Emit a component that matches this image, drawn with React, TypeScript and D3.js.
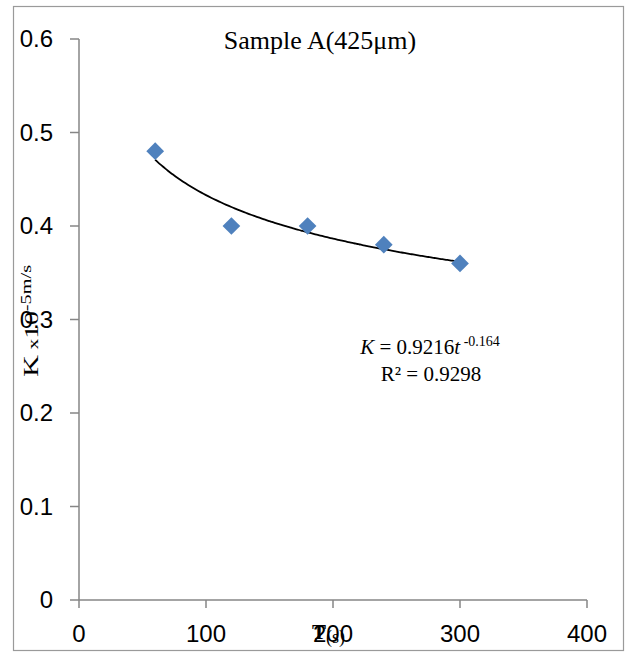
import React from "react";
import * as d3 from "d3";

const times = [60, 120, 180, 240, 300];
const kValues = [0.48, 0.40, 0.40, 0.38, 0.36];
const xTicks = [0, 100, 200, 300, 400];
const yTicks = [0, 0.1, 0.2, 0.3, 0.4, 0.5, 0.6];
const fitCoef = 0.9216;
const fitExp = -0.164;
const fitR2 = 0.9298;
const title = "Sample A(425μm)";

const W = 626;
const H = 654;

export default function App() {
  const x = d3.scaleLinear().domain([0, 400]).range([79, 587]);
  const y = d3.scaleLinear().domain([0, 0.6]).range([600, 39]);
  const axisColor = "#868686";
  const sans = "'Liberation Sans', Arial, sans-serif";
  const serif = "'Liberation Serif', 'Times New Roman', serif";

  const tMin = d3.min(times) as number;
  const tMax = d3.max(times) as number;
  const curveT = d3.range(tMin, tMax + 0.001, 2);
  const line = d3
    .line<number>()
    .x((t) => x(t))
    .y((t) => y(fitCoef * Math.pow(t, fitExp)))
    .curve(d3.curveMonotoneX);

  const diamond = d3.symbol().type(d3.symbolDiamond2).size(200);

  return (
    <svg
      width={W}
      height={H}
      style={{ position: "absolute", left: 0, top: 0, background: "#fff" }}
    >
      <rect x={13.5} y={6.5} width={610} height={644} fill="#fff" stroke="#9a9a9a" strokeWidth={1.2} />

      {/* y axis */}
      <line x1={x(0)} x2={x(0)} y1={y(0)} y2={y(0.6)} stroke={axisColor} strokeWidth={1.5} />
      {yTicks.map((v) => (
        <g key={"y" + v}>
          <line x1={70} x2={x(0)} y1={y(v)} y2={y(v)} stroke={axisColor} strokeWidth={1.5} />
          <text
            x={53}
            y={y(v)}
            dy="0.35em"
            textAnchor="end"
            fontFamily={sans}
            fontSize={24}
            fill="#000"
          >
            {v === 0 ? "0" : d3.format(".1f")(v)}
          </text>
        </g>
      ))}

      {/* x axis */}
      <line x1={x(0)} x2={x(400)} y1={y(0)} y2={y(0)} stroke={axisColor} strokeWidth={1.5} />
      {xTicks.map((v) => (
        <g key={"x" + v}>
          <line x1={x(v)} x2={x(v)} y1={y(0)} y2={608} stroke={axisColor} strokeWidth={1.5} />
          <text
            x={x(v)}
            y={642}
            textAnchor="middle"
            fontFamily={sans}
            fontSize={24}
            fill="#000"
          >
            {v}
          </text>
        </g>
      ))}

      {/* trendline */}
      <path d={line(curveT) || ""} fill="none" stroke="#000" strokeWidth={1.8} />

      {/* markers */}
      {times.map((t, i) => (
        <path
          key={"m" + i}
          d={diamond() || ""}
          transform={`translate(${x(t)},${y(kValues[i])})`}
          fill="#4f81bd"
        />
      ))}

      {/* title */}
      <text x={320} y={49} textAnchor="middle" fontFamily={serif} fontSize={26} fill="#000">
        {title}
      </text>

      {/* equation */}
      <text x={430} y={354} textAnchor="middle" fontFamily={serif} fontSize={21} fill="#000">
        <tspan fontStyle="italic">K</tspan>
        <tspan> = {fitCoef}</tspan>
        <tspan fontStyle="italic">t</tspan>
        <tspan fontSize={14} dy={-8}> {fitExp}</tspan>
      </text>
      <text x={431} y={381} textAnchor="middle" fontFamily={serif} fontSize={21} fill="#000">
        R² = {fitR2}
      </text>

      {/* y axis title */}
      <text
        transform="translate(38,377) rotate(-90) scale(1.45,1)"
        fontFamily={serif}
        fill="#000"
      >
        <tspan fontSize={21}>K</tspan>
        <tspan fontSize={15}> x</tspan>
        <tspan fontSize={19}>10</tspan>
        <tspan fontSize={14} dy={-7}>-5m/s</tspan>
      </text>

      {/* x axis title */}
      <text x={312} y={639} fontFamily={serif} fill="#000">
        <tspan fontSize={21} fontWeight="bold">T</tspan>
        <tspan fontSize={18} dy={4}>(s)</tspan>
      </text>
    </svg>
  );
}
